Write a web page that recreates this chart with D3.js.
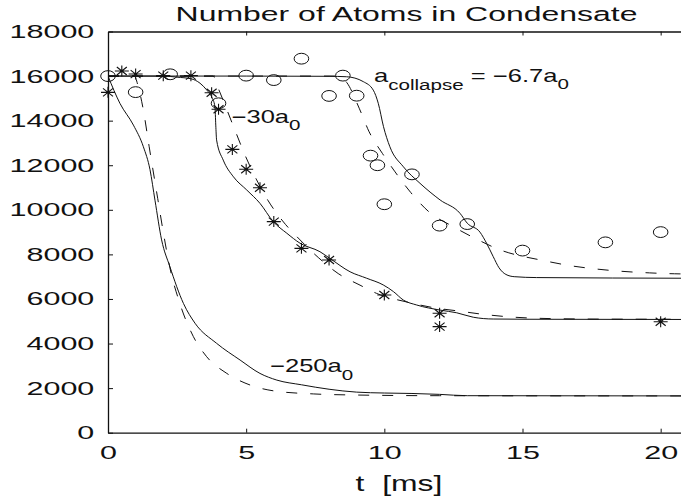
<!DOCTYPE html>
<html>
<head>
<meta charset="utf-8">
<script src="https://cdn.jsdelivr.net/npm/d3@7"></script>
<style>
  body { margin: 0; background: #fff; }
  svg { display: block; font-family: "Liberation Sans", Arial, Helvetica, sans-serif; }
  text { fill: #111; }
</style>
</head>
<body>
<svg id="chart" width="681" height="504"></svg>
<script>
// axis ticks
const xTicks = [0, 5, 10, 15, 20];
const yTicks = [0, 2000, 4000, 6000, 8000, 10000, 12000, 14000, 16000, 18000];

// measured points, a_collapse = -6.7 a0 (circles)
const circleT = [0, 1, 2.25, 4, 5, 6, 7, 8, 8.5, 9, 9.5, 9.75, 10, 11, 12, 13, 15, 18, 20];
const circleN = [16000, 15280, 16080, 14780, 16020, 15820, 16780, 15110, 16020, 15120, 12430, 12000, 10250, 11590, 9290, 9360, 8170, 8540, 9000];

// measured points, -30 a0 (stars)
const starT = [0, 0.5, 1, 2, 3, 3.75, 4, 4.5, 5, 5.5, 6, 7, 8, 10, 12, 12, 20];
const starN = [15270, 16230, 16090, 16020, 16020, 15250, 14510, 12710, 11820, 10990, 9470, 8270, 7750, 6180, 5360, 4760, 4980];

// model curves, solid
const solid250T = [0, 0.43, 0.92, 1.28, 1.52, 1.7, 1.94, 2.24, 2.73, 3.15, 3.93, 4.78, 5.5, 6.11, 7, 8, 9, 10, 11, 12, 13, 21];
const solid250N = [16000, 14780, 13800, 12830, 11800, 10430, 8650, 7450, 5800, 4910, 4010, 3260, 2660, 2360, 2150, 1950, 1820, 1780, 1760, 1720, 1660, 1650];
const solid30T = [0, 2, 2.5, 3, 3.33, 3.57, 3.75, 3.87, 3.9, 3.93, 4.17, 4.54, 5.02, 5.5, 5.98, 6.47, 6.95, 7.67, 8.03, 8.76, 9.36, 9.96, 10.33, 10.69, 11.17, 12.02, 12.62, 13.22, 13.94, 15.27, 21];
const solid30N = [16000, 16000, 15950, 15880, 15680, 15380, 15070, 14630, 13800, 13130, 12230, 11480, 10890, 10290, 9470, 8950, 8500, 8120, 7820, 7220, 6930, 6630, 6330, 5950, 5730, 5500, 5380, 5180, 5100, 5090, 5080];
const solid67T = [0, 5, 8, 8.63, 9.24, 9.6, 9.78, 9.97, 10.2, 10.69, 11.29, 12.02, 12.74, 13.0, 13.46, 13.7, 13.94, 14.15, 14.4, 14.7, 15.5, 21];
const solid67N = [16000, 16000, 15990, 15970, 15750, 15370, 14780, 13730, 12830, 11930, 11190, 10440, 9840, 9400, 9000, 8500, 7900, 7400, 7100, 7000, 6960, 6930];

// model curves, dashed
const dashed250T = [0, 0.95, 1.1, 1.28, 1.49, 1.8, 2.0, 2.24, 2.6, 3.09, 3.57, 4.3, 5.14, 5.98, 7.43, 9, 12, 21];
const dashed250N = [16000, 16000, 15500, 14470, 12830, 10500, 9000, 7400, 5800, 4310, 3410, 2660, 2140, 1880, 1740, 1690, 1660, 1650];
const dashed30T = [0, 3.8, 3.99, 4.57, 4.96, 5.38, 5.8, 6.32, 6.95, 7.61, 8.33, 9.12, 9.72, 10.9, 11.78, 12.68, 13.65, 14.6, 16, 18, 21];
const dashed30N = [16000, 16000, 15450, 13650, 12450, 11340, 10400, 9500, 8650, 7860, 7140, 6620, 6250, 5840, 5610, 5460, 5300, 5190, 5120, 5095, 5090];
const dashed67T = [0, 8.3, 8.64, 9.09, 9.45, 9.93, 10.39, 10.96, 11.68, 12.44, 13.46, 14.09, 15.85, 16.8, 17.7, 18.6, 19.6, 20.5, 21];
const dashed67N = [16000, 16000, 15710, 14560, 13500, 12530, 11700, 10770, 9840, 9280, 8610, 8250, 7700, 7480, 7340, 7240, 7170, 7130, 7120];

const svg = d3.select('#chart');

// plot box (right edge falls outside the picture)
const box = { left: 108, right: 688.3, top: 31.5, bottom: 432.7 };

const x = d3.scaleLinear().domain([0, 21]).range([box.left, box.right]);
const y = d3.scaleLinear().domain([0, 18000]).range([box.bottom, box.top]);

const tickSX = 1.64;   // tick/title text is drawn wide in the original
const labelSX = 1.42;

// clip for the curves
svg.append('defs').append('clipPath')
  .attr('id', 'plotClip')
  .append('rect')
  .attr('x', box.left)
  .attr('y', box.top)
  .attr('width', box.right - box.left)
  .attr('height', box.bottom - box.top);

// axes
const yAxis = d3.axisLeft(y)
  .tickValues(yTicks)
  .tickFormat(d3.format('d'))
  .tickSize(-5)
  .tickSizeOuter(0)
  .tickPadding(13.7 / tickSX);

const xAxis = d3.axisBottom(x)
  .tickValues(xTicks)
  .tickFormat(d3.format('d'))
  .tickSize(-4)
  .tickSizeOuter(0)
  .tickPadding(13);

const topAxis = d3.axisTop(x)
  .tickValues(xTicks.slice(1))
  .tickSize(-4)
  .tickSizeOuter(0)
  .tickFormat('');

const yAxisG = svg.append('g')
  .attr('class', 'yAxisG')
  .attr('transform', `translate(${box.left},0)`)
  .call(yAxis);

const xAxisG = svg.append('g')
  .attr('class', 'xAxisG')
  .attr('transform', `translate(0,${box.bottom})`)
  .call(xAxis);

const topAxisG = svg.append('g')
  .attr('class', 'topAxisG')
  .attr('transform', `translate(0,${box.top})`)
  .call(topAxis);

[yAxisG, xAxisG, topAxisG].forEach(g => {
  g.selectAll('path.domain').attr('stroke', '#111').attr('stroke-width', 1.3);
  g.selectAll('.tick line').attr('stroke', '#111').attr('stroke-width', 1);
  g.selectAll('.tick text')
    .attr('fill', '#111')
    .style('font-size', '18.6px')
    .style('font-family', '"Liberation Sans", Arial, sans-serif')
    .attr('transform', `scale(${tickSX},1)`);
});

// title
svg.append('text')
  .attr('transform', `translate(406.5,20.7) scale(${tickSX},1)`)
  .attr('text-anchor', 'middle')
  .style('font-size', '19.5px')
  .text('Number of Atoms in Condensate');

// x axis label
svg.append('text')
  .attr('transform', `translate(399,491) scale(1.45,1)`)
  .attr('text-anchor', 'middle')
  .style('font-size', '22px')
  .text('t\u00a0\u00a0[ms]');

// curves
const line = d3.line()
  .x(d => x(d[0]))
  .y(d => y(d[1]))
  .curve(d3.curveMonotoneX);

const curves = svg.append('g').attr('clip-path', 'url(#plotClip)');

const series = [
  { t: solid250T, n: solid250N, dash: null },
  { t: solid30T, n: solid30N, dash: null },
  { t: solid67T, n: solid67N, dash: null },
  { t: dashed250T, n: dashed250N, dash: '11,13' },
  { t: dashed30T, n: dashed30N, dash: '11,13' },
  { t: dashed67T, n: dashed67N, dash: '11,13' },
];

curves.selectAll('path.curve')
  .data(series)
  .enter().append('path')
  .attr('class', 'curve')
  .attr('d', d => line(d3.zip(d.t, d.n)))
  .attr('fill', 'none')
  .attr('stroke', '#111')
  .attr('stroke-width', 1)
  .attr('stroke-dasharray', d => d.dash);

// circle markers
svg.append('g').selectAll('ellipse')
  .data(d3.zip(circleT, circleN))
  .enter().append('ellipse')
  .attr('cx', d => x(d[0]))
  .attr('cy', d => y(d[1]))
  .attr('rx', 7.3)
  .attr('ry', 5.4)
  .attr('fill', 'none')
  .attr('stroke', '#111')
  .attr('stroke-width', 1);

// star markers (plus + cross)
const starPath = 'M-7,0H7M0,-5.5V5.5M-5,-4L5,4M-5,4L5,-4';
svg.append('g').selectAll('path.star')
  .data(d3.zip(starT, starN))
  .enter().append('path')
  .attr('class', 'star')
  .attr('transform', d => `translate(${x(d[0])},${y(d[1])})`)
  .attr('d', starPath)
  .attr('fill', 'none')
  .attr('stroke', '#111')
  .attr('stroke-width', 1.1);

// curve labels with subscripts
function subLabel(px, py, parts) {
  const t = svg.append('text')
    .attr('transform', `translate(${px},${py}) scale(${labelSX},1)`)
    .style('font-size', '18px');
  parts.forEach(p => {
    t.append('tspan')
      .attr('dy', p.dy || 0)
      .style('font-size', p.sub ? '14.5px' : '18px')
      .text(p.s);
  });
}

subLabel(374, 81.7, [
  { s: 'a' },
  { s: 'collapse', sub: true, dy: 8.3 },
  { s: '\u00a0=\u00a0\u22126.7a', dy: -8.3 },
  { s: '0', sub: true, dy: 7.6 },
]);

subLabel(231.5, 123, [
  { s: '\u221230a' },
  { s: '0', sub: true, dy: 7 },
]);

subLabel(270, 371.7, [
  { s: '\u2212250a' },
  { s: '0', sub: true, dy: 8.3 },
]);
</script>
</body>
</html>
